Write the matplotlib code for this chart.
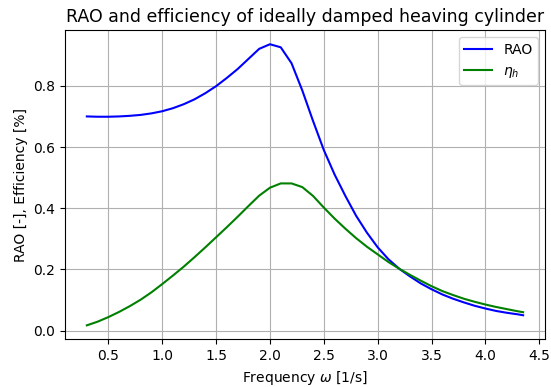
import numpy as np
import matplotlib
matplotlib.use("Agg")
import matplotlib.pyplot as plt

# frequency grid [1/s]
omega = [0.3, 0.4, 0.5, 0.6, 0.7, 0.8, 0.9, 1.0, 1.1, 1.2, 1.3, 1.4, 1.5, 1.6,
         1.7, 1.8, 1.9, 2.0, 2.1, 2.2, 2.3, 2.4, 2.5, 2.6, 2.7, 2.8, 2.9, 3.0,
         3.1, 3.2, 3.3, 3.4, 3.5, 3.6, 3.7, 3.8, 3.9, 4.0, 4.1, 4.2, 4.3, 4.35]

rao = [0.700, 0.699, 0.699, 0.700, 0.702, 0.705, 0.710, 0.717, 0.727, 0.740,
       0.756, 0.776, 0.799, 0.826, 0.855, 0.888, 0.921, 0.936, 0.926, 0.874,
       0.785, 0.685, 0.590, 0.510, 0.440, 0.375, 0.320, 0.272, 0.233, 0.202,
       0.177, 0.154, 0.135, 0.118, 0.104, 0.092, 0.081, 0.072, 0.064, 0.058,
       0.053, 0.050]

eta_h = [0.017, 0.029, 0.044, 0.061, 0.080, 0.101, 0.125, 0.152, 0.180, 0.209,
         0.240, 0.272, 0.305, 0.338, 0.372, 0.407, 0.441, 0.467, 0.481, 0.481,
         0.469, 0.440, 0.402, 0.366, 0.333, 0.302, 0.274, 0.249, 0.224, 0.202,
         0.182, 0.163, 0.145, 0.129, 0.116, 0.104, 0.094, 0.085, 0.077, 0.070,
         0.063, 0.060]

fig = plt.figure(figsize=(5.51, 3.87), dpi=100)
ax = fig.add_axes([0.118, 0.123, 0.871, 0.799])

ax.plot(omega, rao, color='b', label='RAO')
ax.plot(omega, eta_h, color='g', label=r'$\eta_h$')

ax.set_title('RAO and efficiency of ideally damped heaving cylinder', fontsize=12.5)
ax.set_xlabel(r'Frequency $\omega$ [1/s]')
ax.set_ylabel('RAO [-], Efficiency [%]')
ax.grid(True)
ax.legend(loc='upper right')

fig.savefig('out.png', dpi=100)
